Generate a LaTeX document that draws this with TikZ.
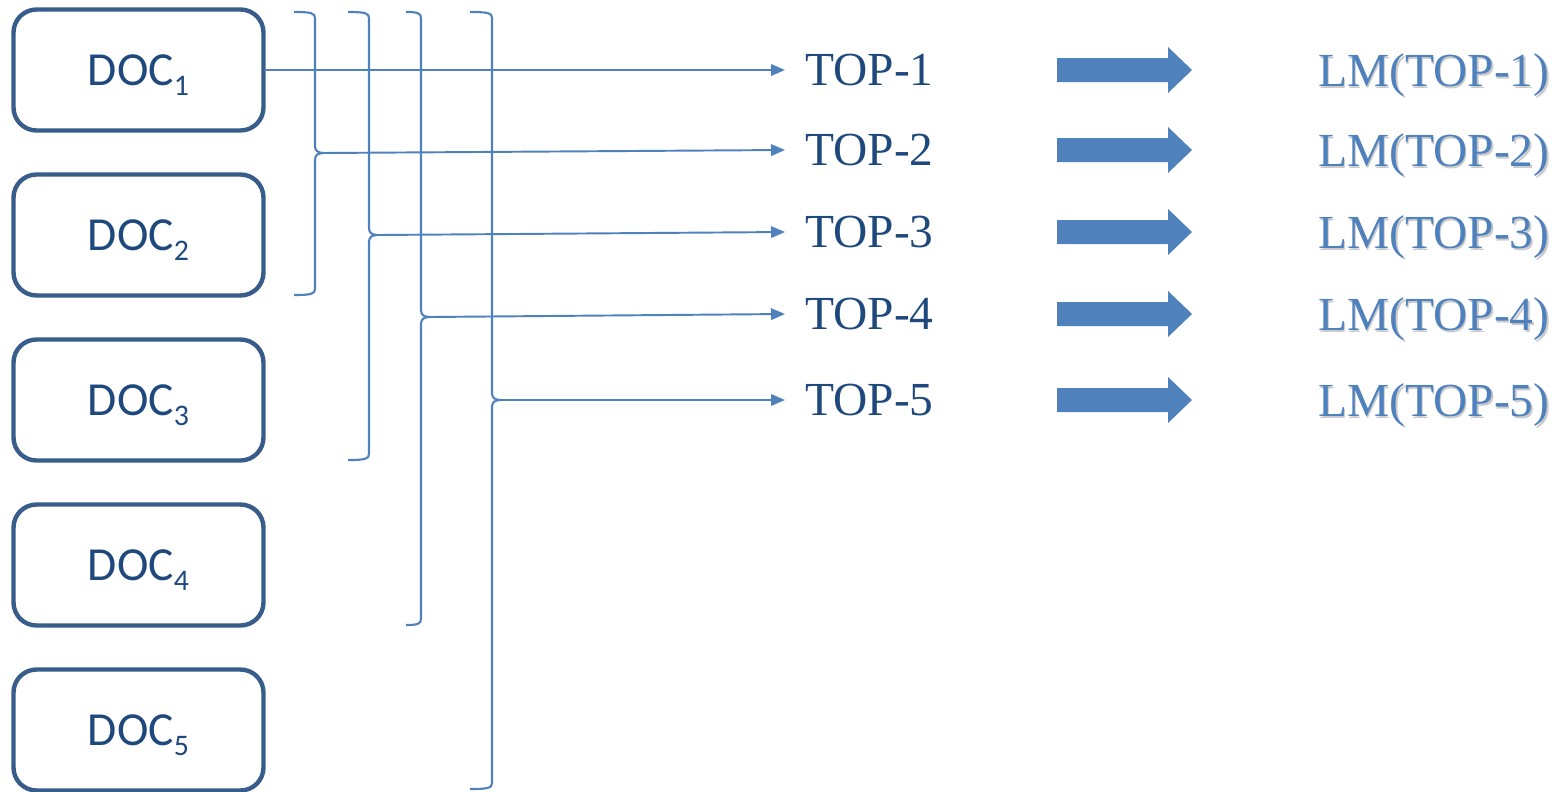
\documentclass[tikz,border=0pt]{standalone}
\usepackage{fontspec}
\setmainfont{Liberation Serif}
\newfontfamily\docfont{Carlito}
\usepackage{xcolor}
\usetikzlibrary{arrows.meta, positioning, calc}

\definecolor{docline}{HTML}{385D8A}
\definecolor{doctext}{HTML}{1F497D}
\definecolor{linkblue}{HTML}{4F81BD}

% lowered document index
\newcommand{\docsub}[1]{\raisebox{-5.7pt}{\fontsize{17}{20}\selectfont#1}}

% closing brace at x=#1 from #2 down to #4, tip at #3, end hooks #5 long;
% the tip is kept as coordinate #6
\newcommand{\groupbrace}[6]{%
  \draw[brc] (#1-#5,#2) .. controls (#1-4,#2) and (#1,#2+1) .. (#1,#2+6)
    -- (#1,#3-7) .. controls (#1,#3-2) and (#1+3,#3) .. (#1+9,#3)
    .. controls (#1+3,#3) and (#1,#3+2) .. (#1,#3+7)
    -- (#1,#4-6) .. controls (#1,#4-1) and (#1-4,#4) .. (#1-#5,#4);
  \coordinate (#6) at (#1+9,#3);}

\begin{document}
\begin{tikzpicture}[
    x=0.02cm, y=-0.02cm,
    doc/.style={draw=docline, line width=2.5pt, rounded corners=0.46cm,
                minimum width=5cm, minimum height=2.42cm, text=doctext,
                text depth=0pt, font=\docfont\fontsize{27}{30}\selectfont},
    topic/.style={anchor=west, inner xsep=0.4cm, inner ysep=0pt, text=doctext,
                  font=\fontsize{27}{32}\selectfont},
    lm/.style={anchor=base west, inner sep=0pt, text=linkblue,
               font=\fontsize{27}{32}\selectfont},
    brc/.style={draw=linkblue, line width=1.2pt},
    arr/.style={-{Triangle[length=2.8mm, width=2.3mm]}, draw=linkblue, line width=1.1pt},
    blk/.style={fill=linkblue},
  ]
  \useasboundingbox (0,0) rectangle (1564,791);

  % documents
  \node[doc] (doc1) at (138.5,70)  {DOC\docsub{1}};
  \node[doc] (doc2) at (138.5,235) {DOC\docsub{2}};
  \node[doc] (doc3) at (138.5,400) {DOC\docsub{3}};
  \node[doc] (doc4) at (138.5,565) {DOC\docsub{4}};
  \node[doc] (doc5) at (138.5,730) {DOC\docsub{5}};

  % rows: topic, block arrow, model output (with its shadow)
  \foreach \i/\y in {1/70, 2/150, 3/232, 4/314, 5/400} {
    \node[topic] (top\i) at (785,\y) {TOP-\i};
    \fill[blk] (1057,\y-12) -- ++(111,0) -- ++(0,-11) -- (1192,\y)
      -- (1168,\y+23) -- ++(0,-11) -- (1057,\y+12) -- cycle;
    \node[lm, text=black!45, opacity=0.45] at (1319.5,\y+18) {LM(TOP-\i)};
    \node[lm] (lm\i) at (1318,\y+16) {LM(TOP-\i)};
  }

  % groups of documents
  \groupbrace{315}{12}{153}{295}{21}{g2}
  \groupbrace{369}{12}{235}{460}{21}{g3}
  \groupbrace{421}{12}{317}{625}{15}{g4}
  \groupbrace{492}{12}{400}{789}{22}{g5}

  \draw[arr] (doc1.east) -- (top1.west);
  \draw[arr] (g2) -- (top2.west);
  \draw[arr] (g3) -- (top3.west);
  \draw[arr] (g4) -- (top4.west);
  \draw[arr] (g5) -- (top5.west);
\end{tikzpicture}
\end{document}
